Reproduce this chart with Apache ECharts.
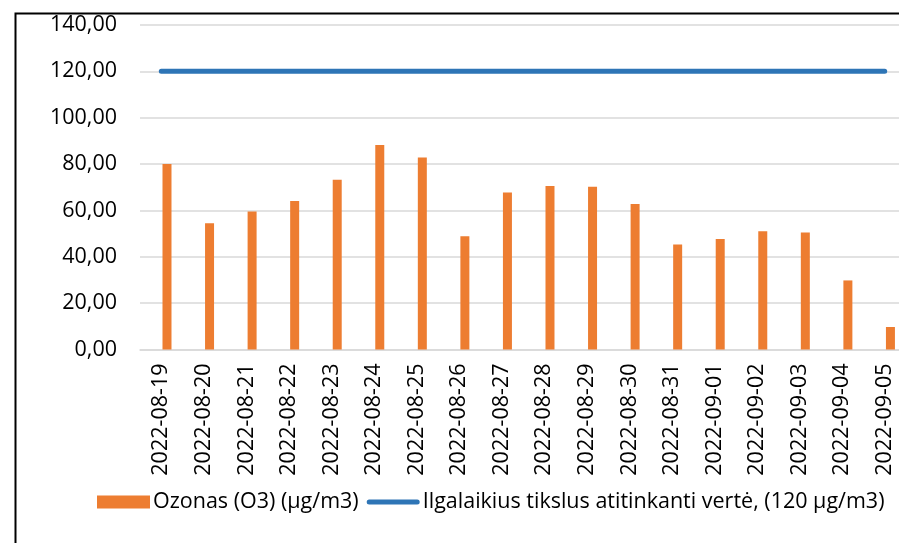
<!DOCTYPE html>
<html>
<head>
<meta charset="utf-8">
<script src="https://cdn.jsdelivr.net/npm/echarts@6/dist/echarts.min.js"></script>
<style>html,body{margin:0;padding:0;background:#fff;overflow:hidden}#c{width:910px;height:543px}</style>
</head>
<body>
<div id="c"></div>
<script>
const categories = ['2022-08-19','2022-08-20','2022-08-21','2022-08-22','2022-08-23','2022-08-24','2022-08-25','2022-08-26','2022-08-27','2022-08-28','2022-08-29','2022-08-30','2022-08-31','2022-09-01','2022-09-02','2022-09-03','2022-09-04','2022-09-05'];
const ozone = [80.0, 54.5, 59.5, 64.1, 73.2, 88.2, 82.8, 48.9, 67.7, 70.5, 70.2, 62.8, 45.3, 47.7, 51.0, 50.5, 29.8, 9.7];
const limitValues = [120,120,120,120,120,120,120,120,120,120,120,120,120,120,120,120,120,120];
const emptySeries = categories.map(() => null);
const yTicks = [0, 20, 40, 60, 80, 100, 120, 140];
const seriesNames = ['Ozonas (O3) (µg/m3)', 'Ilgalaikius tikslus atitinkanti vertė, (120 µg/m3)'];

const FONT = 'Open Sans';
const FS = 21.5;
const chart = echarts.init(document.getElementById('c'));
chart.setOption({
  animation: false,
  backgroundColor: '#fff',
  textStyle: { fontFamily: FONT },
  graphic: [{
    type: 'rect', left: 13, top: 11, z: 100,
    shape: { x: 0, y: 0, width: 1000, height: 1000 },
    style: { fill: 'none', stroke: '#000', lineWidth: 2 }
  }],
  grid: { left: 140, top: 25, width: 766, height: 324.5, containLabel: false },
  legend: {
    left: 92, top: 486,
    data: [
      { name: seriesNames[0], icon: 'rect' },
      { name: seriesNames[1], icon: 'path://M0,0 M53,13 M2.5,4 L50.5,4 A2.5,2.5 0 0 1 50.5,9 L2.5,9 A2.5,2.5 0 0 1 2.5,4 Z' }
    ],
    itemWidth: 53, itemHeight: 13, itemGap: 8,
    textStyle: { fontFamily: FONT, fontSize: FS, color: '#000', padding: [0, 0, 0, -2] }
  },
  xAxis: {
    type: 'category', data: categories,
    axisLine: { lineStyle: { color: '#d9d9d9', width: 1.5 } },
    axisTick: { show: false },
    axisLabel: { rotate: 90, interval: 0, margin: 14, fontSize: FS, color: '#000', fontFamily: FONT }
  },
  yAxis: {
    type: 'value', min: yTicks[0], max: yTicks[yTicks.length - 1], interval: 20,
    axisLine: { show: false }, axisTick: { show: false },
    splitLine: { lineStyle: { color: '#d9d9d9', width: 1.5 } },
    axisLabel: { margin: 23, fontSize: FS, color: '#000', fontFamily: FONT,
      formatter: v => v.toFixed(2).replace('.', ',') }
  },
  series: [
    { type: 'bar', name: 'hidden', data: emptySeries, barWidth: 9, barGap: '27%', silent: true },
    { type: 'bar', name: seriesNames[0], data: ozone, barWidth: 9, barGap: '27%',
      itemStyle: { color: '#ed7d31' } },
    { type: 'line', name: seriesNames[1], data: limitValues, symbol: 'none',
      lineStyle: { color: '#2e75b6', width: 5, cap: 'round' }, itemStyle: { color: '#2e75b6' } }
  ]
});
</script>
</body>
</html>
